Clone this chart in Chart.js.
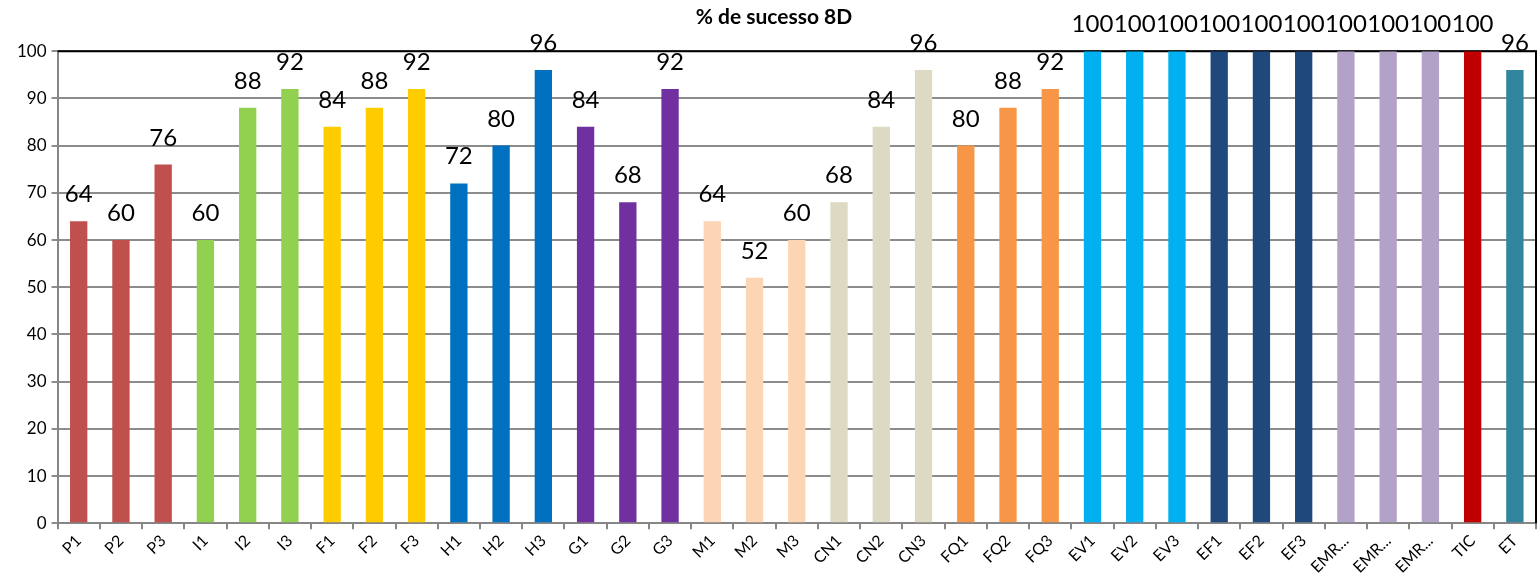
<!DOCTYPE html>
<html lang="pt">
<head>
    <meta charset="UTF-8">
    <title>% de sucesso 8D</title>
    <script src="https://cdn.jsdelivr.net/npm/chart.js@4.4.0/dist/chart.umd.min.js"></script>
    <style>
        html, body { margin: 0; padding: 0; background: #fff; }
        #wrap { width: 1539px; height: 579px; }
    </style>
</head>
<body>
<div id="wrap"><canvas id="myBarChart"></canvas></div>
<script>
    var categories = ['P1','P2','P3','I1','I2','I3','F1','F2','F3','H1','H2','H3','G1','G2','G3',
        'M1','M2','M3','CN1','CN2','CN3','FQ1','FQ2','FQ3','EV1','EV2','EV3','EF1','EF2','EF3',
        'EMR...','EMR...','EMR...','TIC','ET'];
    var successValues = [64,60,76,60,88,92,84,88,92,72,80,96,84,68,92,
        64,52,60,68,84,96,80,88,92,100,100,100,100,100,100,
        100,100,100,100,96];
    var barColors = ['#C0504D','#C0504D','#C0504D','#92D050','#92D050','#92D050',
        '#FFCC00','#FFCC00','#FFCC00','#0070C0','#0070C0','#0070C0',
        '#7030A0','#7030A0','#7030A0','#FCD5B5','#FCD5B5','#FCD5B5',
        '#DDD9C3','#DDD9C3','#DDD9C3','#F79646','#F79646','#F79646',
        '#00B0F0','#00B0F0','#00B0F0','#1F497D','#1F497D','#1F497D',
        '#B3A2C7','#B3A2C7','#B3A2C7','#C00000','#31859C'];
    var yTicks = [0,10,20,30,40,50,60,70,80,90,100];

    var FONT = "Lato, 'Open Sans', sans-serif";

    // values written above each bar
    var valueLabels = {
        id: 'valueLabels',
        afterDatasetsDraw: function (chart) {
            var ctx = chart.ctx;
            var meta = chart.getDatasetMeta(0);
            ctx.save();
            ctx.font = '24px ' + FONT;
            ctx.fillStyle = '#000';
            ctx.textAlign = 'center';
            ctx.textBaseline = 'alphabetic';
            meta.data.forEach(function (bar, i) {
                ctx.fillText(successValues[i], bar.x, bar.y - 19);
            });
            ctx.restore();
        }
    };

    // black top/right border of plot area
    var frame = {
        id: 'frame',
        beforeDatasetsDraw: function (chart) {
            var a = chart.chartArea;
            var ctx = chart.ctx;
            ctx.save();
            ctx.strokeStyle = '#000';
            ctx.lineWidth = 2;
            ctx.beginPath();
            ctx.moveTo(a.left, a.top);
            ctx.lineTo(a.right, a.top);
            ctx.lineTo(a.right, a.bottom);
            ctx.stroke();
            ctx.restore();
        }
    };

    new Chart(document.getElementById('myBarChart'), {
        type: 'bar',
        data: {
            labels: categories,
            datasets: [{
                data: successValues,
                backgroundColor: barColors,
                barPercentage: 0.41,
                categoryPercentage: 1.0
            }]
        },
        options: {
            responsive: true,
            maintainAspectRatio: false,
            animation: false,
            layout: { padding: { left: 12, right: 3, top: 0, bottom: 0 } },
            plugins: {
                legend: { display: false },
                tooltip: { enabled: false },
                title: {
                    display: true,
                    text: '% de sucesso 8D',
                    color: '#000',
                    font: { family: FONT, size: 21, weight: 'bold' },
                    padding: { top: 5, bottom: 21 }
                }
            },
            scales: {
                x: {
                    grid: {
                        display: true,
                        drawOnChartArea: false,
                        drawTicks: true,
                        tickLength: 6,
                        color: '#868686',
                        lineWidth: 2,
                        offset: true
                    },
                    border: { color: '#868686', width: 2 },
                    ticks: {
                        color: '#000',
                        font: { family: FONT, size: 16 },
                        maxRotation: 45,
                        minRotation: 45,
                        autoSkip: false,
                        padding: 2
                    }
                },
                y: {
                    min: 0,
                    max: 100,
                    afterBuildTicks: function (axis) {
                        axis.ticks = yTicks.map(function (v) { return { value: v }; });
                    },
                    grid: {
                        color: '#8c8c8c',
                        lineWidth: 2,
                        tickLength: 6
                    },
                    border: { color: '#868686', width: 2 },
                    ticks: {
                        color: '#000',
                        font: { family: FONT, size: 17 },
                        padding: 5
                    }
                }
            }
        },
        plugins: [valueLabels, frame]
    });
</script>
</body>
</html>
